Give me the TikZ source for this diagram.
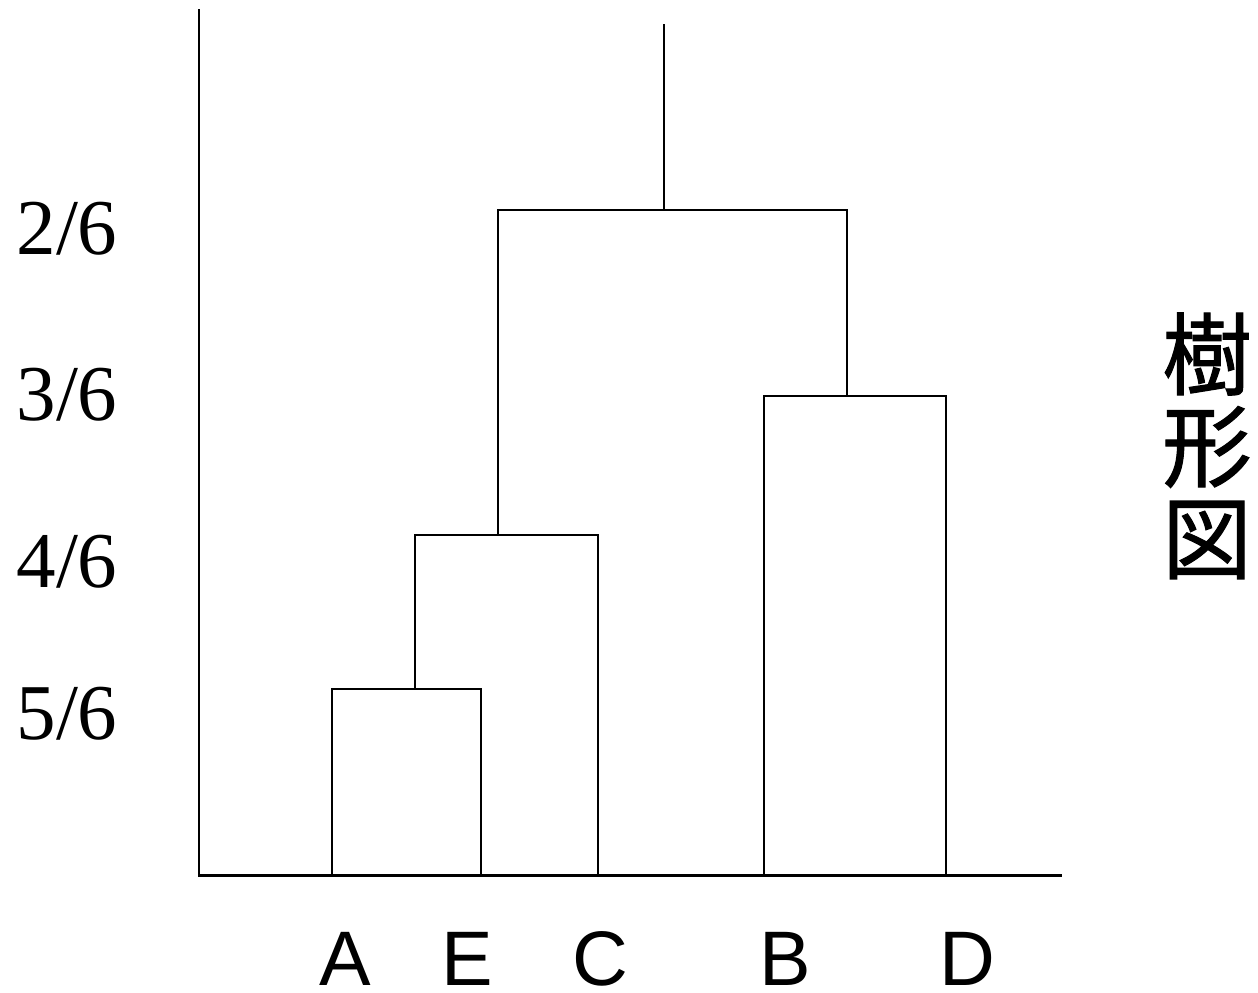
\documentclass[tikz,border=0pt]{standalone}
\usepackage{fontspec}
\setmainfont{Liberation Serif}
\newfontfamily\sansf{Liberation Sans}
\newfontfamily\cjk[FakeBold=1.2]{Noto Sans CJK JP}
\begin{document}
\begin{tikzpicture}[x=0.02cm,y=-0.02cm,
  axisline/.style={line width=1.7pt},
  treeline/.style={line width=1.1pt},
  levlabel/.style={anchor=base,inner sep=0pt,font=\fontsize{45}{50}\selectfont},
  leaflabel/.style={anchor=base,inner sep=0pt,font=\sansf\fontsize{44}{50}\selectfont},
  kanji/.style={inner sep=0pt,font=\cjk\fontsize{51}{56}\selectfont}]
\useasboundingbox (0,0) rectangle (1258,992);
% axes
\coordinate (ytop) at (199,9);
\coordinate (origin) at (199,875);
\coordinate (xend) at (1062,875);
\draw[axisline] (ytop) -- (origin) -- (xend);
% leaves
\coordinate (A) at (332,875);
\coordinate (E) at (481,875);
\coordinate (C) at (598,875);
\coordinate (B) at (764,875);
\coordinate (D) at (946,875);
% merges
\coordinate (Aae) at (332,689);
\coordinate (Eae) at (481,689);
\coordinate (AEm) at (415,689);
\coordinate (AEt) at (415,535);
\coordinate (Ct) at (598,535);
\coordinate (AECm) at (498,535);
\coordinate (AECt) at (498,210);
\coordinate (Bt) at (764,396);
\coordinate (Dt) at (946,396);
\coordinate (BDm) at (847,396);
\coordinate (BDt) at (847,210);
\coordinate (rootb) at (664,210);
\coordinate (roott) at (664,24);
\draw[treeline] (A) -- (Aae) -- (Eae) -- (E);
\draw[treeline] (AEm) -- (AEt) -- (Ct) -- (C);
\draw[treeline] (AECm) -- (AECt) -- (BDt) -- (BDm);
\draw[treeline] (B) -- (Bt) -- (Dt) -- (D);
\draw[treeline] (rootb) -- (roott);
% level labels
\node[levlabel] (l2) at (67,254) {2/6};
\node[levlabel] (l3) at (67,420) {3/6};
\node[levlabel] (l4) at (67,587) {4/6};
\node[levlabel] (l5) at (67,739) {5/6};
% leaf labels
\node[leaflabel] (tA) at (345,985) {A};
\node[leaflabel] (tE) at (467,985) {E};
\node[leaflabel] (tC) at (600,985) {C};
\node[leaflabel] (tB) at (785,985) {B};
\node[leaflabel] (tD) at (967,985) {D};
% title
\node[kanji] (k1) at (1207,354) {樹};
\node[kanji] (k2) at (1207,447) {形};
\node[kanji] (k3) at (1207,540) {図};
\end{tikzpicture}
\end{document}
